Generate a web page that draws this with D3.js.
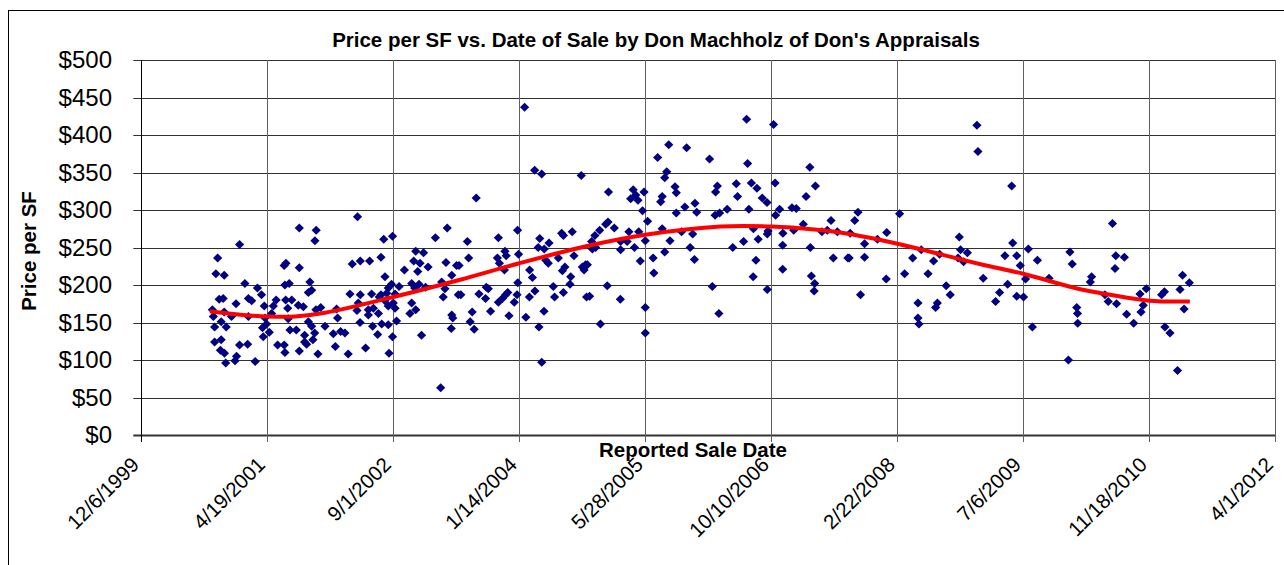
<!DOCTYPE html>
<meta charset="utf-8">

<!-- Load d3.js -->
<script src="https://d3js.org/d3.v7.min.js"></script>

<style>
  body { margin: 0; background: #fff; }
  text { font-family: Arial, "Liberation Sans", sans-serif; }
</style>

<!-- Create a div where the graph will take place -->
<div id="my_dataviz"></div>

<script>

// sale dates are Excel serial day numbers (36500 = 12/6/1999), prices in $ per SF
var saleSerial = [
  37127, 37194, 37189, 36890, 36803, 36796, 36829, 37074, 37067, 37127, 36911, 36961, 36977, 37070, 37087, 37169,
  37163, 37176, 36809, 36825, 36876, 36925, 36938, 36988, 37035, 37024, 37073, 37097, 37081, 37123, 37143, 37193,
  37212, 36782, 36786, 36829, 36858, 36925, 37017, 36991, 36997, 36981, 37083, 37090, 37163, 37176, 37229, 36791,
  36817, 36837, 37008, 36984, 37115, 37148, 37188, 37181, 36791, 36817, 36814, 36830, 36835, 36890, 36922, 36878,
  36872, 36952, 37041, 37067, 37070, 37127, 37156, 37201, 37148,
  37358, 37462, 37497, 37667, 37714, 37337, 37369, 37406, 37451, 37589, 37620, 37581, 37606, 37597, 37638, 37544,
  37709, 37751, 37467, 37732, 37493, 37523, 37573, 37602, 37585, 37628, 37692, 37705, 37698, 37758, 37328, 37369,
  37414, 37451, 37480, 37474, 37507, 37444, 37467, 37500, 37480, 37507, 37361, 37356, 37401, 37421, 37441, 37275,
  37279, 37401, 37573, 37566, 37589, 37513, 37480, 37454, 37418, 37368, 37438, 37497, 37612, 37732, 37736, 37730,
  37262, 37291, 37308, 37270, 37321, 37390, 37483, 37688,
  38021, 38061, 38089, 38246, 37829, 37794, 37917, 37993, 38081, 38118, 38075, 38099, 38168, 38210, 38175, 37799,
  37761, 37913, 37943, 37948, 37921, 37941, 37997, 38105, 38115, 38155, 38217, 38041, 38052, 38181, 38171, 38204,
  38201, 38250, 38263, 38257, 37994, 37768, 37840, 37869, 37877, 37866, 37917, 37946, 37933, 37954, 37991, 37980,
  38040, 38062, 38135, 38140, 38175, 38267, 37886, 37959, 38026, 38098, 37813, 37805, 37821, 38078, 38089,
  38593, 38664, 38549, 38755, 38585, 38577, 38618, 38623, 38786, 38779, 38354, 38452, 38442, 38462, 38471, 38495,
  38561, 38567, 38657, 38697, 38704, 38623, 38777, 38489, 38509, 38352, 38343, 38377, 38319, 38300, 38287, 38303,
  38290, 38435, 38474, 38402, 38428, 38457, 38402, 38500, 38567, 38644, 38688, 38598, 38678, 38577, 38531, 38480,
  38695, 38534, 38270, 38349, 38279, 38401, 38766, 38500, 38322, 38500, 38792,
  38902, 39009, 38906, 39153, 38861, 38921, 38943, 39015, 39175, 38866, 38964, 38983, 39138, 38795, 38825, 38911,
  39033, 39017, 39082, 39099, 38929, 38948, 38890, 38847, 38984, 38987, 39046, 39045, 39089, 39127, 39155, 39201,
  39237, 39222, 39262, 39246, 39304, 38939, 38928, 39045, 39159, 39172, 39170, 38984,
  39816, 39820, 39344, 39331, 39509, 39313, 39370, 39421, 39458, 39309, 39370, 39456, 39354, 39529, 39561, 39595,
  39622, 39644, 39668, 39746, 39751, 39778, 39763, 39741, 39694, 39710, 39582, 39659, 39652, 39582, 39586,
  39954, 39958, 39927, 39974, 39988, 40020, 40056, 39841, 39938, 40009, 40102, 39906, 39890, 39974, 40001, 40036,
  40185, 40194, 40271, 40266, 40212, 40215, 40216, 40179, 40324, 40337,
  40354, 40367, 40401, 40364, 40370, 40410, 40438, 40463, 40488, 40476, 40467, 40549, 40560, 40562, 40582, 40612,
  40632, 40659, 40622, 40638
];

var pricePerSF = [
  276, 273, 259, 254, 236, 215, 213, 229, 226, 223, 202, 196, 187, 200, 202, 204,
  190, 193, 181, 182, 175, 182, 179, 172, 180, 172, 180, 180, 169, 173, 171, 167,
  170, 167, 158, 164, 158, 158, 162, 156, 148, 143, 155, 140, 151, 145, 145, 144,
  151, 144, 137, 131, 140, 133, 136, 127, 124, 127, 113, 109, 96, 120, 121, 105,
  99, 98, 120, 120, 110, 112, 121, 108, 124,
  291, 261, 265, 263, 276, 228, 232, 232, 237, 245, 243, 232, 229, 218, 224, 220,
  230, 226, 211, 213, 201, 198, 202, 201, 196, 197, 204, 195, 184, 187, 188, 187,
  188, 187, 196, 189, 188, 184, 179, 176, 172, 169, 176, 166, 167, 169, 162, 168,
  156, 160, 176, 162, 167, 152, 147, 148, 145, 150, 134, 131, 133, 160, 156, 142,
  135, 138, 136, 118, 108, 116, 109, 63,
  437, 353, 348, 346, 316, 258, 263, 273, 262, 256, 250, 248, 269, 271, 266, 236,
  226, 236, 245, 239, 229, 220, 241, 233, 229, 236, 239, 220, 210, 224, 219, 211,
  201, 224, 227, 220, 203, 187, 188, 197, 195, 182, 177, 187, 182, 190, 187, 177,
  184, 192, 198, 184, 190, 184, 165, 159, 157, 165, 164, 151, 141, 144, 97,
  387, 383, 370, 368, 351, 343, 331, 323, 332, 324, 324, 327, 315, 320, 313, 324,
  311, 318, 304, 309, 297, 296, 293, 299, 285, 284, 281, 276, 273, 266, 258, 250,
  248, 271, 271, 258, 258, 250, 247, 259, 275, 271, 268, 259, 250, 244, 236, 232,
  234, 216, 227, 199, 185, 181, 198, 170, 148, 136, 162,
  421, 414, 362, 357, 335, 336, 329, 336, 332, 318, 316, 310, 318, 296, 301, 301,
  301, 293, 303, 302, 275, 261, 258, 250, 268, 272, 269, 253, 273, 281, 250, 271,
  286, 273, 271, 236, 236, 233, 211, 221, 212, 202, 192, 194,
  413, 378, 297, 286, 295, 269, 255, 261, 270, 236, 237, 208, 187, 215, 236, 247,
  215, 232, 241, 264, 247, 243, 231, 236, 199, 187, 176, 176, 170, 156, 148,
  332, 256, 239, 239, 226, 248, 233, 209, 201, 208, 209, 190, 178, 185, 184, 144,
  244, 228, 211, 204, 170, 162, 149, 100, 187, 178,
  282, 239, 237, 222, 175, 161, 149, 188, 195, 173, 164, 187, 191, 144, 136, 86,
  213, 203, 194, 168
];

// trend line
var trendSerial = [36772, 36845, 37000, 37110, 37229, 37500, 37765, 38000, 38283, 38500, 38799,
                   39000, 39172, 39311, 39500, 39827, 40000, 40205, 40344, 40500, 40661];
var trendPrice  = [165, 162, 158, 158, 163, 184, 207, 229, 253, 267, 278,
                   278, 274, 268, 255, 228, 215, 196, 187, 179, 178];

// axis ticks
var xTickSerials = [36500, 37000, 37500, 38000, 38500, 39000, 39500, 40000, 40500, 41000];
var yTickValues = [0, 50, 100, 150, 200, 250, 300, 350, 400, 450, 500];

// excel serial -> js date
function serialToDate(s) {
  return new Date(Date.UTC(1899, 11, 30) + s * 864e5);
}

var W = 1284, H = 565;
var plot = {left: 141.3, top: 60, right: 1275.3, bottom: 435};

var svg = d3.select("#my_dataviz")
  .append("svg")
    .attr("width", W)
    .attr("height", H)
    .style("display", "block");

svg.append("rect")
  .attr("width", W).attr("height", H)
  .attr("fill", "#fff");

// outer chart border (right and bottom edges fall outside the picture)
svg.append("rect")
  .attr("x", 8.5).attr("y", 10.5)
  .attr("width", 1300).attr("height", 600)
  .attr("fill", "none")
  .attr("stroke", "#000")
  .attr("stroke-width", 1);

var x = d3.scaleUtc()
  .domain([serialToDate(36500), serialToDate(41000)])
  .range([plot.left, plot.right]);

var y = d3.scaleLinear()
  .domain([0, 500])
  .range([plot.bottom, plot.top]);

// horizontal gridlines
svg.append("g")
  .selectAll("line")
  .data(yTickValues)
  .enter()
  .append("line")
    .attr("x1", plot.left - 8).attr("x2", plot.right)
    .attr("y1", function(d) { return Math.round(y(d)) + 0.5; })
    .attr("y2", function(d) { return Math.round(y(d)) + 0.5; })
    .attr("stroke", function(d) { return d === 0 ? "#333" : "#303030"; })
    .attr("stroke-width", function(d) { return d === 0 ? 2 : 1; });

// vertical gridlines + tick marks
svg.append("g")
  .selectAll("line")
  .data(xTickSerials)
  .enter()
  .append("line")
    .attr("x1", function(d) { return Math.round(x(serialToDate(d))) + 0.5; })
    .attr("x2", function(d) { return Math.round(x(serialToDate(d))) + 0.5; })
    .attr("y1", plot.top)
    .attr("y2", plot.bottom + 7)
    .attr("stroke", function(d, i) { return i === 0 ? "#000" : "#606060"; })
    .attr("stroke-width", 1);

// y tick labels
svg.append("g")
  .selectAll("text")
  .data(yTickValues)
  .enter()
  .append("text")
    .attr("x", 112)
    .attr("y", function(d) { return y(d); })
    .attr("dy", "0.35em")
    .attr("text-anchor", "end")
    .style("font-size", "24px")
    .text(function(d) { return "$" + d; });

// x tick labels, rotated
var fmt = d3.utcFormat("%-m/%-d/%Y");
svg.append("g")
  .selectAll("text")
  .data(xTickSerials)
  .enter()
  .append("text")
    .attr("transform", function(d) {
      return "translate(" + (x(serialToDate(d)) - 1) + "," + 466 + ") rotate(-45)";
    })
    .attr("text-anchor", "end")
    .style("font-size", "20.5px")
    .text(function(d) { return fmt(serialToDate(d)); });

// scatter points (diamonds)
svg.append("g")
  .selectAll("path")
  .data(d3.zip(saleSerial, pricePerSF))
  .enter()
  .append("path")
    .attr("transform", function(d) {
      return "translate(" + x(serialToDate(d[0])) + "," + y(d[1]) + ")";
    })
    .attr("d", "M0,-4.6L4.6,0L0,4.6L-4.6,0Z")
    .attr("fill", "#000080");

// trend line on top of points
svg.append("path")
  .datum(d3.zip(trendSerial, trendPrice))
  .attr("fill", "none")
  .attr("stroke", "#ff0000")
  .attr("stroke-width", 4)
  .attr("d", d3.line()
    .curve(d3.curveCatmullRom)
    .x(function(d) { return x(serialToDate(d[0])); })
    .y(function(d) { return y(d[1]); })
  );

// titles
svg.append("text")
  .attr("x", 656).attr("y", 47)
  .attr("text-anchor", "middle")
  .style("font-size", "20.5px")
  .style("font-weight", "bold")
  .text("Price per SF vs. Date of Sale by Don Machholz of Don's Appraisals");

svg.append("text")
  .attr("x", 693).attr("y", 457)
  .attr("text-anchor", "middle")
  .style("font-size", "20.5px")
  .style("font-weight", "bold")
  .text("Reported Sale Date");

svg.append("text")
  .attr("transform", "translate(36,251) rotate(-90)")
  .attr("text-anchor", "middle")
  .style("font-size", "20.5px")
  .style("font-weight", "bold")
  .text("Price per SF");

</script>
